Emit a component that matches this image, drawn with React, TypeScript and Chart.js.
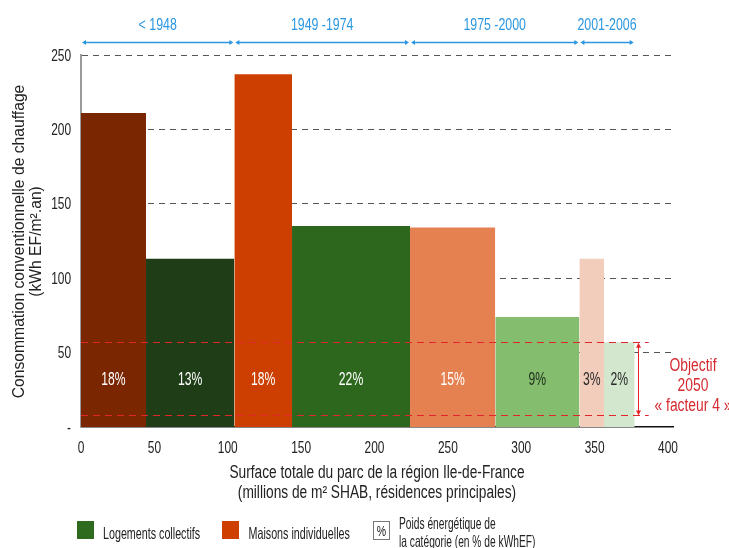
import React, { useEffect, useRef } from "react";
import { Chart, registerables } from "chart.js";

Chart.register(...registerables);

// ---- data ----
const surfaces = [44.3, 60.2, 39.3, 80.4, 58.1, 57.3, 16.8, 20.9];
const consumption = [211, 113, 237, 135, 134, 74, 113, 57];
const shares = ["18%", "13%", "18%", "22%", "15%", "9%", "3%", "2%"];
const barColors = ["#7A2600", "#1F3D17", "#CD3F00", "#2D671E", "#E58151", "#84BD6E", "#F3CDBC", "#D2E7CD"];
const shareColors = ["#FFFFFF", "#FFFFFF", "#FFFFFF", "#FFFFFF", "#FFFFFF", "#1E2A1A", "#2A2A2A", "#2A2A2A"];
const periods = ["< 1948", "1949 -1974", "1975 -2000", "2001-2006"];
const barsPerPeriod = [2, 2, 2, 2];
const xTickValues = [0, 50, 100, 150, 200, 250, 300, 350, 400];
const yTickValues = [0, 50, 100, 150, 200, 250];
const objectiveHigh = 57;
const objectiveLow = 8;
const objectiveText = ["Objectif", "2050", "« facteur 4 »"];
const yTitle = ["Consommation conventionnelle de chauffage", "(kWh EF/m².an)"];
const xTitle = ["Surface totale du parc de la région Ile-de-France", "(millions de m² SHAB, résidences principales)"];
const legendLabels = ["Logements collectifs", "Maisons individuelles"];
const legendColors = ["#2E6B1F", "#CF4000"];
const shareLegend = ["Poids énergétique de", "la catégorie (en % de kWhEF)"];

const edges = surfaces.reduce<number[]>((acc, s) => [...acc, acc[acc.length - 1] + s], [0]);

const FONT = '"Liberation Sans", Arial, sans-serif';
const BLUE = "#2B97E0";
const RED = "#E0262B";
const RED_TEXT = "#D42A30";

function txt(
  ctx: CanvasRenderingContext2D,
  s: string,
  x: number,
  y: number,
  size: number,
  sx: number,
  color: string,
  align: CanvasTextAlign = "center",
  rotate = 0
) {
  ctx.save();
  ctx.translate(x, y);
  if (rotate) ctx.rotate(rotate);
  ctx.scale(sx, 1);
  ctx.font = `${size}px ${FONT}`;
  ctx.fillStyle = color;
  ctx.textAlign = align;
  ctx.textBaseline = "alphabetic";
  ctx.fillText(s, 0, 0);
  ctx.restore();
}

function arrowHead(ctx: CanvasRenderingContext2D, x: number, y: number, dx: number, dy: number, len: number, half: number) {
  ctx.beginPath();
  ctx.moveTo(x, y);
  ctx.lineTo(x - dx * len - dy * half, y - dy * len - dx * half);
  ctx.lineTo(x - dx * len + dy * half, y - dy * len + dx * half);
  ctx.closePath();
  ctx.fill();
}

const overlay = {
  id: "overlay",
  afterDraw(chart: any) {
    const ctx: CanvasRenderingContext2D = chart.ctx;
    const xs = chart.scales.x;
    const ys = chart.scales.y;
    const ca = chart.chartArea;

    // tick labels
    ys.ticks.forEach((t: any) => {
      txt(ctx, t.value === 0 ? "-" : String(t.value), ca.left - 10, ys.getPixelForValue(t.value) + 5.5, 17, 0.7, "#222", "right");
    });
    xs.ticks.forEach((t: any) => {
      txt(ctx, String(t.value), xs.getPixelForValue(t.value), ca.bottom + 26, 17, 0.7, "#222", "center");
    });

    // share labels
    const labelY = ys.getPixelForValue((objectiveHigh + objectiveLow) / 2) + 6.5;
    shares.forEach((s, i) => {
      const cx = (xs.getPixelForValue(edges[i]) + xs.getPixelForValue(edges[i + 1])) / 2;
      txt(ctx, s, cx, labelY, 19, 0.64, shareColors[i], "center");
    });

    // objective dashed lines
    const lastX = xs.getPixelForValue(edges[edges.length - 1]);
    const yHi = ys.getPixelForValue(objectiveHigh);
    const yLo = ys.getPixelForValue(objectiveLow);
    ctx.save();
    ctx.strokeStyle = RED;
    ctx.lineWidth = 1;
    ctx.setLineDash([7, 5]);
    [yHi, yLo].forEach((y) => {
      ctx.beginPath();
      ctx.moveTo(ca.left, Math.round(y) + 0.5);
      ctx.lineTo(lastX + 14, Math.round(y) + 0.5);
      ctx.stroke();
    });
    ctx.setLineDash([]);
    const ax = Math.round(lastX + 3) + 0.5;
    ctx.beginPath();
    ctx.moveTo(ax, yHi + 4);
    ctx.lineTo(ax, yLo - 4);
    ctx.stroke();
    ctx.fillStyle = RED;
    arrowHead(ctx, ax, yHi + 0.5, 0, -1, 5, 2.5);
    arrowHead(ctx, ax, yLo + 0.5, 0, 1, 5, 2.5);
    ctx.restore();

    objectiveText.forEach((s, i) => {
      txt(ctx, s, 693, 370.7 + i * 20, 18, 0.77, RED_TEXT, "center");
    });

    // period timeline
    const lineY = ca.top - 12.5;
    ctx.save();
    ctx.strokeStyle = BLUE;
    ctx.fillStyle = BLUE;
    ctx.lineWidth = 1.5;
    let startBar = 0;
    periods.forEach((p, i) => {
      const endBar = startBar + barsPerPeriod[i];
      const x0 = xs.getPixelForValue(edges[startBar]) + 1;
      const x1 = xs.getPixelForValue(edges[endBar]) - 1;
      ctx.beginPath();
      ctx.moveTo(x0 + 2, lineY);
      ctx.lineTo(x1 - 2, lineY);
      ctx.stroke();
      arrowHead(ctx, x0, lineY, -1, 0, 4, 2.5);
      arrowHead(ctx, x1, lineY, 1, 0, 4, 2.5);
      txt(ctx, p, (x0 + x1) / 2, 30, 16.3, 0.76, BLUE, "center");
      startBar = endBar;
    });
    ctx.restore();

    // axis titles
    const yMid = (ca.top + ca.bottom) / 2 + 0.5;
    txt(ctx, yTitle[0], 24, yMid, 15.7, 1, "#222", "center", -Math.PI / 2);
    txt(ctx, yTitle[1], 41, yMid, 15.7, 1, "#222", "center", -Math.PI / 2);
    const xMid = (ca.left + ca.right) / 2;
    txt(ctx, xTitle[0], xMid, 478, 17.6, 0.78, "#222", "center");
    txt(ctx, xTitle[1], xMid, 497.5, 17.6, 0.78, "#222", "center");

    // legend
    const legX = [77, 222];
    const legTextX = [103, 248.5];
    legendLabels.forEach((l, i) => {
      ctx.fillStyle = legendColors[i];
      ctx.fillRect(legX[i], 521, 17, 18);
      txt(ctx, l, legTextX[i], 538.5, 16.5, 0.65, "#222", "left");
    });
    ctx.save();
    ctx.fillStyle = "#fff";
    ctx.fillRect(373, 521, 16, 18);
    ctx.strokeStyle = "#777";
    ctx.lineWidth = 1;
    ctx.strokeRect(373.5, 521.5, 16, 18);
    ctx.restore();
    txt(ctx, "%", 381.5, 536, 15, 0.7, "#222", "center");
    txt(ctx, shareLegend[0], 399, 528.5, 16.5, 0.62, "#222", "left");
    txt(ctx, shareLegend[1], 399, 546.5, 16.5, 0.62, "#222", "left");
  },
};

export default function App() {
  const ref = useRef<HTMLCanvasElement>(null);
  useEffect(() => {
    if (!ref.current) return;
    const datasets = consumption.map((v, i) => ({
      label: shares[i],
      data: [
        { x: edges[i], y: v },
        { x: edges[i + 1], y: v },
      ],
      fill: "origin",
      backgroundColor: barColors[i],
      borderColor: "rgba(0,0,0,0)",
      borderWidth: 0,
      pointRadius: 0,
      pointHoverRadius: 0,
      tension: 0,
    }));
    const chart = new Chart(ref.current, {
      type: "line",
      data: { datasets } as any,
      options: {
        animation: false,
        responsive: false,
        devicePixelRatio: 1,
        events: [],
        layout: { padding: { left: 0, top: 55, right: 56, bottom: 91 } },
        plugins: { legend: { display: false }, tooltip: { enabled: false } },
        scales: {
          x: {
            type: "linear",
            min: 0,
            max: 403.4,
            afterBuildTicks: (s: any) => {
              s.ticks = xTickValues.map((v) => ({ value: v }));
            },
            afterFit: (s: any) => {
              s.height = 30;
            },
            ticks: { display: false },
            grid: { display: false, drawTicks: false },
            border: { display: true, color: "#111", width: 1.5 },
          },
          y: {
            type: "linear",
            min: 0,
            max: 250,
            afterBuildTicks: (s: any) => {
              s.ticks = yTickValues.map((v) => ({ value: v }));
            },
            afterFit: (s: any) => {
              s.width = 81;
            },
            ticks: { display: false },
            grid: {
              drawTicks: false,
              color: (c: any) => (c.tick && c.tick.value === 0 ? "rgba(0,0,0,0)" : "#555"),
              lineWidth: 1,
            },
            border: { display: true, color: "#9A9A9A", width: 2, dash: [6, 5] },
          },
        },
      } as any,
      plugins: [overlay],
    });
    return () => chart.destroy();
  }, []);
  return (
    <div style={{ position: "fixed", left: 0, top: 0, width: 729, height: 548, background: "#fff" }}>
      <canvas ref={ref} width={729} height={548} style={{ display: "block", width: 729, height: 548 }} />
    </div>
  );
}
